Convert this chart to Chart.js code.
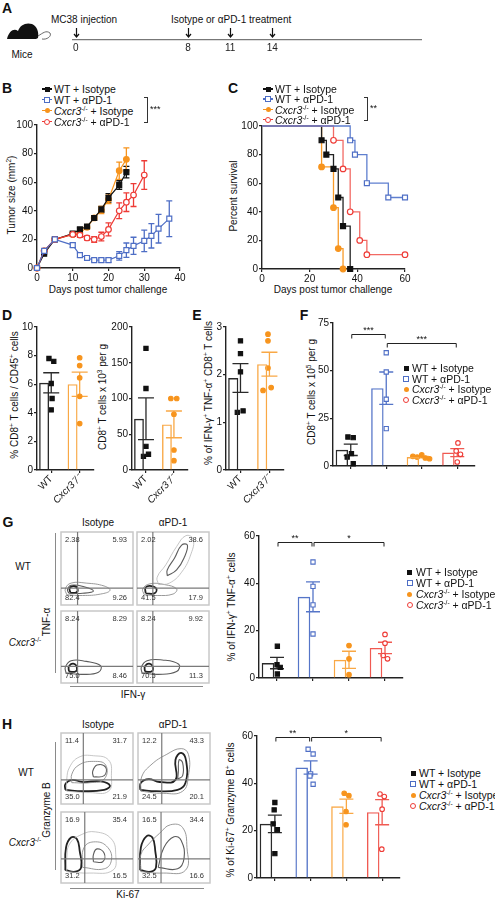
<!DOCTYPE html>
<html>
<head>
<meta charset="utf-8">
<title>CXCR3 and anti-PD-1 response in MC38 tumors</title>
<script src="https://cdn.jsdelivr.net/npm/chart.js@4.4.1/dist/chart.umd.min.js"></script>
<style>
  body { margin: 0; width: 495px; height: 900px; position: relative; overflow: hidden; background: #fff;
         font-family: "Liberation Sans", Arial, sans-serif; color: #111; }
  canvas { position: absolute; }
  .t { position: absolute; font-size: 10px; line-height: 1; white-space: nowrap; transform: translate(0, -50%); }
  .c { transform: translate(-50%, -50%); }
  .r { transform: translate(-50%, -50%) rotate(-90deg); }
  .L { font-size: 14px; font-weight: bold; }
  sup { font-size: 6.5px; vertical-align: 4px; line-height: 0; }
  .ln { position: absolute; background: #8a8a8a; }
</style>
</head>
<body>

<svg style="position:absolute;left:6px;top:21px" width="46" height="20" viewBox="0 0 46 20">
  <path d="M1 18 C3 10 8 7 12 10 C14 4 20 1 26 3 C31 5 33 11 32 17 L30 18 Z" fill="#111"/>
  <path d="M32 15 C37 12 40 9 44 12 C46 15 41 19 36 18" fill="none" stroke="#444" stroke-width="0.8"/>
</svg>
<div class="t L c" style="left:7px;top:8px">A</div>
<div class="t c" style="left:22px;top:55px">Mice</div>
<div class="t" style="left:51px;top:20px">MC38 injection</div>
<div class="t" style="left:171px;top:20px">Isotype or αPD-1 treatment</div>

<div class="t L c" style="left:7px;top:88px">B</div>
<div class="t r" style="left:12px;top:195px">Tumor size (mm<sup>2</sup>)</div>
<div class="t c" style="left:108px;top:290px">Days post tumor challenge</div>
<div class="t L c" style="left:233px;top:88px">C</div>
<div class="t r" style="left:234px;top:196px">Percent survival</div>
<div class="t c" style="left:333px;top:290px">Days post tumor challenge</div>

<div class="t L c" style="left:7px;top:315px">D</div>
<div class="t L c" style="left:197px;top:315px">E</div>
<div class="t L c" style="left:304px;top:315px">F</div>
<div class="t r" style="left:15px;top:395px">% CD8<sup>+</sup> T cells / CD45<sup>+</sup> cells</div>
<div class="t r" style="left:103px;top:397px">CD8<sup>+</sup> T cells x 10<sup>3</sup> per g</div>
<div class="t r" style="left:209px;top:393px">% of IFN-γ<sup>+</sup> TNF-α<sup>+</sup> CD8<sup>+</sup> T cells</div>
<div class="t r" style="left:312px;top:392px">CD8<sup>+</sup> T cells x 10<sup>5</sup> per g</div>

<div class="t L c" style="left:8px;top:522px">G</div>
<div class="t c" style="left:98px;top:523px">Isotype</div>
<div class="t c" style="left:173px;top:523px">αPD-1</div>
<div class="t c" style="left:23px;top:567px">WT</div>
<div class="t c" style="left:25px;top:643px"><i>Cxcr3</i><sup>-/-</sup></div>
<div class="t r" style="left:47px;top:622px">TNF-α</div>
<div class="ln" style="left:55px;top:533px;width:1px;height:140px"></div>
<div class="ln" style="left:70px;top:686px;width:133px;height:1px"></div>
<div class="t c" style="left:133px;top:695px">IFN-γ</div>
<div class="t r" style="left:232px;top:607px">% of IFN-γ<sup>+</sup> TNF-α<sup>+</sup> cells</div>

<div class="t L c" style="left:7px;top:724px">H</div>
<div class="t c" style="left:98px;top:725px">Isotype</div>
<div class="t c" style="left:173px;top:725px">αPD-1</div>
<div class="t c" style="left:26px;top:773px">WT</div>
<div class="t c" style="left:25px;top:843px"><i>Cxcr3</i><sup>-/-</sup></div>
<div class="t r" style="left:47px;top:810px">Granzyme B</div>
<div class="ln" style="left:55px;top:742px;width:1px;height:128px"></div>
<div class="ln" style="left:70px;top:888px;width:134px;height:1px"></div>
<div class="t c" style="left:128px;top:895px">Ki-67</div>
<div class="t r" style="left:231px;top:810px">% of Ki-67<sup>+</sup> Granzyme B<sup>+</sup> cells</div>

<script>
// ---- data ----
// A: schedule (days)
const timelineDays = [0, 8, 11, 14];

// B: tumor size (mm2), mean and SEM
const dayWtIso = [0, 2, 5, 10, 12, 14, 16, 18, 20, 23, 25];
const sizeWtIso = [0, 10, 20, 24, 27, 29, 35, 41, 49, 58, 67];
const semWtIso = [0, 0.5, 0.8, 1, 1, 1.2, 1.5, 2, 3, 3, 4];
const dayWtPd1 = [0, 2, 5, 10, 12, 14, 16, 18, 20, 23, 25, 27, 30, 32, 34, 37];
const sizeWtPd1 = [0, 12, 20, 16, 9, 7, 5.5, 5.5, 5.5, 8.5, 12.5, 15.5, 19, 22.5, 27.5, 34.5];
const semWtPd1 = [0, 0.5, 0.8, 1.5, 1.5, 1, 1, 1.5, 1.5, 3, 5, 6, 7.5, 8.5, 10, 12.5];
const dayKoIso = [0, 2, 5, 10, 12, 14, 16, 18, 20, 23, 25];
const sizeKoIso = [0, 12, 20, 23.5, 24.5, 28.5, 35, 40.5, 48, 68, 76];
const semKoIso = [0, 0.5, 0.8, 1, 1.2, 1.5, 1.5, 2.5, 3, 6, 8];
const dayKoPd1 = [0, 2, 5, 10, 12, 14, 16, 18, 20, 23, 25, 27, 30];
const sizeKoPd1 = [0, 12, 20, 23.5, 23, 21, 20, 22, 27, 40, 46, 51, 65];
const semKoPd1 = [0, 0.5, 0.8, 1, 1.5, 1.5, 2, 3, 4.5, 5.5, 6.5, 8, 10];

// C: percent survival
const survDayWtIso = [0, 25, 27, 30, 32, 34, 37];
const survWtIso = [100, 90, 80, 70, 50, 30, 0];
const survDayWtPd1 = [0, 37, 39, 44, 53, 60];
const survWtPd1 = [100, 90, 80, 60, 50, 50];
const survDayKoIso = [0, 25, 30, 32, 34];
const survKoIso = [100, 71.4, 42.9, 14.3, 0];
const survDayKoPd1 = [0, 30, 34, 37, 41, 44, 60];
const survKoPd1 = [100, 90, 70, 40, 20, 10, 10];

// D, E: WT vs Cxcr3-/-
const genotypes = ['WT', 'Cxcr3⁻/⁻'];
const dPctWt = [7.8, 7.6, 6.05, 5.0, 4.2];
const dPctKo = [7.85, 7.3, 6.45, 5.15, 3.25];
const dPctMean = [6.1, 6.0];
const dPctSem = [0.7, 0.85];
const dCntWt = [170, 114, 33, 19, 22];
const dCntKo = [100, 100, 78, 28, 13];
const dCntMean = [71.7, 63.8];
const dCntSem = [29.3, 18.7];
const eWt = [2.71, 2.44, 2.06, 1.21, 1.24];
const eKo = [2.85, 2.71, 2.14, 1.67, 1.73];
const eMean = [1.93, 2.22];
const eSem = [0.3, 0.25];

// F, G, H: four groups
const groups = ['WT + Isotype', 'WT + αPD-1', 'Cxcr3-/- + Isotype', 'Cxcr3-/- + αPD-1'];
const fPts = [[15.2, 14.9, 6.5, 4.7, 1.2], [59.4, 49.3, 35, 19.6], [5.1, 4.7, 5.8, 4.2, 3.8], [12.1, 7.9, 6.1, 2.1]];
const fMean = [8.5, 40.8, 4.7, 7.05];
const fSem = [3, 8.5, 0.4, 2.1];
const gPts = [[13.4, 5.6, 4.5, 1.7], [49, 38.7, 30.9, 18.6], [13.7, 8.1, 1.4], [18.4, 14.7, 9.5, 8.1]];
const gMean = [6.3, 34.3, 7.7, 12.7];
const gSem = [2.4, 6.3, 3.6, 2.4];
const hPts = [[31.9, 28.8, 22.9, 20.4, 10.3], [54.4, 52.4, 44, 43.1, 39.6], [35.8, 34.8, 28.1, 22.5], [35.5, 34.4, 29.1, 12.2]];
const hMean = [22.9, 46.7, 30.3, 27.8];
const hSem = [3.7, 2.8, 3, 5.3];

// small horizontal spread of the dots inside each bar (category units)
const dPctX = [[-0.08, 0.09, 0, 0.03, 0], [0, 0, 0, 0, 0]];
const dCntX = [[0, 0, 0, -0.09, 0.09], [-0.11, 0.1, 0, 0, 0]];
const eX = [[0, 0, 0, -0.11, 0.09], [-0.05, -0.05, -0.05, -0.22, 0.06]];
const fX = [[-0.08, 0.07, 0.02, -0.1, 0.07], [0, 0, 0, 0], [-0.25, -0.13, 0, 0.1, 0.22], [0.02, -0.03, 0.09, 0]];
const gX = [[0.01, 0, 0.09, 0.01], [0, 0, 0, 0], [0, 0, 0], [0, 0, -0.05, 0.07]];
const hX = [[0, -0.02, -0.05, 0.07, 0], [-0.07, 0.07, 0, -0.02, 0.07], [-0.06, 0.07, -0.01, -0.01], [-0.06, 0.06, 0, -0.01]];

// flow cytometry quadrant percentages [top-left, top-right, bottom-left, bottom-right]
const gWtIsoQ = ['2.38', '5.93', '82.4', '9.26'];
const gWtPd1Q = ['2.02', '38.6', '41.5', '17.9'];
const gKoIsoQ = ['8.24', '8.29', '75.0', '8.46'];
const gKoPd1Q = ['8.24', '9.92', '70.5', '11.3'];
const hWtIsoQ = ['11.4', '31.7', '35.0', '21.9'];
const hWtPd1Q = ['12.2', '43.3', '24.5', '20.1'];
const hKoIsoQ = ['16.9', '35.4', '31.2', '16.5'];
const hKoPd1Q = ['16.5', '34.4', '32.5', '16.6'];
// gate positions (% of axis)
const gGateX = [23, 22, 23, 22];
const hGateX = [31, 33, 33, 32];
const gGateY = 23;
const hGateY = 34;
// contour outlines (% of axis), outer to inner
const gWtIsoC = [[[8,14],[30,13],[55,15],[68,20],[60,26],[35,30],[14,30],[6,22],[8,14]],
                 [[11,16],[30,16],[45,19],[32,25],[14,27],[9,21],[11,16]],
                 [[13,17],[21,17],[23,22],[18,26],[12,23],[13,17]]];
const gWtPd1C = [[[30,28],[45,30],[62,45],[75,70],[78,90],[68,95],[55,80],[40,55],[28,38],[30,28]],
                 [[10,14],[28,13],[50,15],[55,22],[38,28],[18,29],[8,22],[10,14]],
                 [[42,40],[55,48],[66,66],[70,82],[62,82],[52,64],[42,48],[42,40]],
                 [[12,16],[24,16],[27,22],[20,26],[12,24],[12,16]]];
const gKoIsoC = [[[7,14],[30,12],[52,15],[55,24],[35,30],[14,31],[6,22],[7,14]],
                 [[11,16],[20,16],[22,22],[17,27],[11,23],[11,16]]];
const gKoPd1C = [[[7,14],[30,12],[55,16],[58,26],[35,32],[14,31],[6,22],[7,14]],
                 [[11,16],[20,16],[22,22],[17,27],[11,23],[11,16]]];
const hWtIsoC = [[[8,18],[40,16],[66,18],[70,40],[66,62],[45,68],[25,66],[12,52],[8,35],[8,18]],
                 [[15,30],[40,30],[60,35],[62,55],[45,60],[25,55],[15,42],[15,30]],
                 [[45,38],[60,40],[62,52],[50,55],[44,46],[45,38]],
                 [[6,20],[30,18],[60,20],[68,26],[55,32],[30,31],[15,34],[6,28],[6,20]]];
const hWtPd1C = [[[4,18],[35,15],[62,18],[70,40],[70,70],[60,78],[40,70],[18,55],[5,38],[4,18]],
                 [[55,35],[62,40],[62,58],[57,62],[56,45],[55,35]],
                 [[3,20],[25,18],[55,20],[66,30],[67,60],[60,72],[52,62],[52,34],[30,31],[15,35],[4,30],[3,20]]];
const hKoIsoC = [[[8,16],[40,14],[72,18],[76,40],[70,62],[48,72],[28,68],[12,55],[8,35],[8,16]],
                 [[30,22],[60,20],[70,32],[65,50],[48,58],[32,50],[30,22]],
                 [[45,30],[58,30],[60,42],[50,48],[45,40],[45,30]],
                 [[6,18],[20,16],[28,22],[26,45],[22,62],[14,64],[7,50],[6,18]]];
const hKoPd1C = [[[4,16],[35,14],[66,18],[68,50],[62,78],[45,82],[30,70],[15,55],[4,40],[4,16]],
                 [[28,22],[55,20],[64,35],[60,60],[50,65],[36,50],[28,22]],
                 [[3,18],[18,16],[25,22],[24,45],[20,64],[12,66],[4,50],[3,18]]];

// ---- styling ----
const STY = [
  { c: '#111111', bar: '#2a2a2a', ps: 'rect', open: false, line: '#222' },
  { c: '#4e6ec5', bar: '#5575c8', ps: 'rect', open: true, line: '#5f7fcf' },
  { c: '#f7941d', bar: '#f9a845', ps: 'circle', open: false, line: '#f89b2a' },
  { c: '#ee3b36', bar: '#f05a52', ps: 'circle', open: true, line: '#f26a64' }
];
const NAMES = ['WT + Isotype', 'WT + αPD-1', '<i>Cxcr3</i><sup>-/-</sup> + Isotype', '<i>Cxcr3</i><sup>-/-</sup> + αPD-1'];

Chart.defaults.font.family = '"Liberation Sans", Arial, sans-serif';
Chart.defaults.font.size = 10;
Chart.defaults.color = '#111';
Chart.defaults.animation = false;
Chart.defaults.responsive = false;
Chart.defaults.plugins.legend.display = false;
Chart.defaults.plugins.tooltip.enabled = false;

function place(l, t, r, b, m) {
  const c = document.createElement('canvas');
  const w = Math.round(r - l + m[0] + m[2]), h = Math.round(b - t + m[1] + m[3]);
  c.width = w; c.height = h;
  c.style.left = (l - m[0]) + 'px';
  c.style.top = (t - m[1]) + 'px';
  c.style.width = w + 'px';
  c.style.height = h + 'px';
  document.body.appendChild(c);
  return c;
}

function yAx(min, max, step, w) {
  return {
    type: 'linear', min: min, max: max,
    ticks: { stepSize: step, padding: 1, font: { size: 10 }, color: '#111' },
    grid: { drawOnChartArea: false, tickLength: 3, color: '#222', lineWidth: 1.2 },
    border: { color: '#222', width: 1.4 },
    afterFit: s => { s.width = w; }
  };
}
function xLin(min, max, step, h) {
  return {
    type: 'linear', min: min, max: max,
    ticks: { stepSize: step, padding: 1, font: { size: 10 }, color: '#111' },
    grid: { drawOnChartArea: false, tickLength: 3, color: '#222', lineWidth: 1.2 },
    border: { color: '#222', width: 1.4 },
    afterFit: s => { s.height = h; }
  };
}

let pid = 0;
function errPlugin(xs, means, sems, color, cap, xKey) {
  return {
    id: 'err' + (pid++),
    beforeDatasetsDraw(chart) {
      const sx = chart.scales[xKey || 'x'], sy = chart.scales.y, ctx = chart.ctx;
      ctx.save();
      ctx.lineWidth = 1.3;
      xs.forEach((x, i) => {
        if (!sems[i]) return;
        const px = sx.getPixelForValue(x);
        const a = sy.getPixelForValue(means[i] + sems[i]);
        const b = sy.getPixelForValue(Math.max(means[i] - sems[i], 0));
        ctx.strokeStyle = Array.isArray(color) ? color[i] : color;
        ctx.beginPath();
        ctx.moveTo(px, a); ctx.lineTo(px, b);
        ctx.moveTo(px - cap, a); ctx.lineTo(px + cap, a);
        ctx.moveTo(px - cap, b); ctx.lineTo(px + cap, b);
        ctx.stroke();
      });
      ctx.restore();
    }
  };
}

function bracketPlugin(list) {
  return {
    id: 'brk' + (pid++),
    afterDatasetsDraw(chart) {
      const sx = chart.scales.x, sy = chart.scales.y, ctx = chart.ctx;
      ctx.save();
      ctx.strokeStyle = '#222'; ctx.lineWidth = 1; ctx.fillStyle = '#111';
      ctx.font = '9px "Liberation Sans", Arial, sans-serif';
      ctx.textAlign = 'center'; ctx.textBaseline = 'bottom';
      list.forEach(([a, b, y, txt]) => {
        const x1 = sx.getPixelForValue(a) + 1, x2 = sx.getPixelForValue(b) - 1, py = Math.round(sy.getPixelForValue(y)) + 0.5;
        ctx.beginPath();
        ctx.moveTo(x1, py + 4); ctx.lineTo(x1, py); ctx.lineTo(x2, py); ctx.lineTo(x2, py + 4);
        ctx.stroke();
        ctx.fillText(txt, (x1 + x2) / 2, py + 1);
      });
      ctx.restore();
    }
  };
}

// ---- A: schedule ----
new Chart(place(73, 20, 421, 40, [6, 0, 6, 14]), {
  type: 'scatter',
  data: { datasets: [{ data: timelineDays.map(d => ({ x: d, y: 0 })), pointRadius: 0 }] },
  options: {
    layout: { padding: { left: 6, right: 6 } },
    scales: {
      x: { type: 'linear', min: -0.2, max: 24.6,
           afterBuildTicks: s => { s.ticks = timelineDays.map(v => ({ value: v })); },
           ticks: { padding: 2, color: '#222', font: { size: 10 } },
           grid: { display: false, drawTicks: false },
           border: { color: '#777', width: 1.3 },
           afterFit: s => { s.height = 14; } },
      y: { display: false, min: 0, max: 1 }
    }
  },
  plugins: [{
    id: 'arrows',
    afterDraw(chart) {
      const sx = chart.scales.x, ctx = chart.ctx, b = chart.chartArea.bottom;
      ctx.save(); ctx.strokeStyle = '#111'; ctx.lineWidth = 1.2;
      timelineDays.forEach(d => {
        const px = Math.round(sx.getPixelForValue(d)) + 0.5;
        ctx.beginPath();
        ctx.moveTo(px, b - 12); ctx.lineTo(px, b - 3);
        ctx.moveTo(px - 2.5, b - 6); ctx.lineTo(px, b - 3); ctx.lineTo(px + 2.5, b - 6);
        ctx.stroke();
      });
      ctx.restore();
    }
  }]
});

// ---- B: tumor growth ----
function growth(xs, ys, s) {
  return {
    data: xs.map((x, i) => ({ x: x, y: ys[i] })),
    borderColor: s.c, borderWidth: 1.2,
    pointStyle: s.ps, pointRadius: s.ps === 'rect' ? 3.5 : 2.8, pointBorderWidth: 1.2,
    pointBorderColor: s.c, pointBackgroundColor: s.open ? '#fff' : s.c, clip: false
  };
}
new Chart(place(37, 125, 180, 268, [30, 8, 8, 16]), {
  type: 'line',
  data: { datasets: [
    growth(dayWtPd1, sizeWtPd1, STY[1]),
    growth(dayKoPd1, sizeKoPd1, STY[3]),
    growth(dayWtIso, sizeWtIso, STY[0]),
    growth(dayKoIso, sizeKoIso, STY[2])
  ] },
  options: {
    layout: { padding: { top: 8, right: 8 } },
    scales: { x: xLin(0, 40, 10, 16), y: yAx(0, 100, 20, 30) }
  },
  plugins: [
    errPlugin(dayWtPd1, sizeWtPd1, semWtPd1, STY[1].c, 3),
    errPlugin(dayKoPd1, sizeKoPd1, semKoPd1, STY[3].c, 3),
    errPlugin(dayWtIso, sizeWtIso, semWtIso, STY[0].c, 3),
    errPlugin(dayKoIso, sizeKoIso, semKoIso, STY[2].c, 3)
  ]
});

// ---- C: survival ----
function surv(xs, ys, s) {
  return {
    data: xs.map((x, i) => ({ x: x, y: ys[i] })),
    stepped: true, borderColor: s.line, borderWidth: 1.3,
    pointStyle: s.ps, pointRadius: xs.map((x, i) => i === 0 ? 0 : (s.ps === 'rect' ? 3.5 : 2.8)),
    pointBorderWidth: 1.2, pointBorderColor: s.c, pointBackgroundColor: s.open ? '#fff' : s.c, clip: false
  };
}
new Chart(place(262, 126, 405, 269, [30, 8, 10, 16]), {
  type: 'line',
  data: { datasets: [
    surv(survDayWtPd1, survWtPd1, STY[1]),
    surv(survDayKoPd1, survKoPd1, STY[3]),
    surv(survDayWtIso, survWtIso, STY[0]),
    surv(survDayKoIso, survKoIso, STY[2])
  ] },
  options: {
    layout: { padding: { top: 8, right: 10 } },
    scales: { x: xLin(0, 60, 20, 16), y: yAx(0, 100, 20, 30) }
  }
});

// ---- bar + dot charts ----
function barChart(rect, m, labels, means, sems, pts, ptX, sty, yMax, yStep, cap, showLabels, brackets) {
  const n = labels.length;
  const datasets = [{
    type: 'bar', data: means, backgroundColor: 'rgba(0,0,0,0)',
    borderColor: sty.map(s => s.bar), borderWidth: 1.4,
    barPercentage: 0.7, categoryPercentage: 1
  }];
  pts.forEach((vals, i) => datasets.push({
    type: 'scatter', xAxisID: 'x2',
    data: vals.map((v, j) => ({ x: i + ptX[i][j], y: v })),
    pointStyle: sty[i].ps, pointRadius: sty[i].ps === 'rect' ? 3 : 2.3, pointBorderWidth: 1.1,
    pointBorderColor: sty[i].c, pointBackgroundColor: sty[i].open ? '#fff' : sty[i].c, clip: false
  }));
  const plugins = [errPlugin(labels.map((l, i) => i), means, sems, sty.map(s => s.bar), cap)];
  if (brackets) plugins.push(bracketPlugin(brackets));
  new Chart(place(rect[0], rect[1], rect[2], rect[3], m), {
    type: 'bar',
    data: { labels: labels, datasets: datasets },
    options: {
      layout: { padding: { top: m[1], right: m[2] } },
      scales: {
        x: {
          type: 'category', offset: true,
          ticks: { display: showLabels, minRotation: 45, maxRotation: 45, padding: 0, color: '#111',
                   font: c => ({ size: 10, style: c.index === 1 ? 'italic' : 'normal' }) },
          grid: { offset: false, drawOnChartArea: false, tickLength: 3, color: '#222', lineWidth: 1.2 },
          border: { color: '#222', width: 1.4 },
          afterFit: s => { s.height = m[3]; }
        },
        // hidden twin of the category axis, so dots can sit beside each other in a bar
        x2: { type: 'linear', display: false, offset: false, grid: { offset: false }, min: -0.5, max: n - 0.5 },
        y: yAx(0, yMax, yStep, m[0])
      }
    },
    plugins: plugins
  });
}

const two = [STY[0], STY[2]];
barChart([37, 327, 95, 470], [30, 8, 4, 44], genotypes, dPctMean, dPctSem, [dPctWt, dPctKo], dPctX, two, 10, 2, 8, true);
barChart([132, 327, 189, 470], [30, 8, 4, 44], genotypes, dCntMean, dCntSem, [dCntWt, dCntKo], dCntX, two, 200, 50, 8, true);
barChart([225.5, 327, 284.5, 470], [24, 8, 4, 44], genotypes, eMean, eSem, [eWt, eKo], eX, two, 3, 1, 8, true);
barChart([333, 323, 475, 466], [24, 8, 6, 8], groups, fMean, fSem, fPts, fX, STY, 75, 25, 7, false,
         [[0, 1, 69, '***'], [1, 3, 64.3, '***']]);
barChart([258.5, 536, 402.5, 678], [24, 10, 6, 8], groups, gMean, gSem, gPts, gX, STY, 60, 20, 7, false,
         [[0, 1, 57.5, '**'], [1, 3, 57.5, '*']]);
barChart([257, 736, 400, 878], [24, 12, 6, 8], groups, hMean, hSem, hPts, hX, STY, 60, 20, 7, false,
         [[0, 1, 59.5, '**'], [1, 3, 59.5, '*']]);

// ---- flow cytometry plots ----
const CONT_COL = ['#b8b8b8', '#8e8e8e', '#5c5c5c', '#222'];
const CONT_W = [0.8, 0.9, 1.1, 1.8];
function flowChart(rect, gx, gy, quad, contours) {
  const off = 4 - contours.length;
  new Chart(place(rect[0], rect[1], rect[2], rect[3], [1, 1, 1, 1]), {
    type: 'scatter',
    data: { datasets: contours.map((pts, k) => ({
      data: pts.map(p => ({ x: p[0], y: p[1] })), showLine: true, tension: 0.45,
      pointRadius: 0, borderColor: CONT_COL[k + off], borderWidth: CONT_W[k + off]
    })) },
    options: {
      layout: { padding: 1 },
      scales: { x: { display: false, min: 0, max: 100 }, y: { display: false, min: 0, max: 100 } }
    },
    plugins: [{
      id: 'flow',
      beforeDatasetsDraw(chart) {
        const a = chart.chartArea, ctx = chart.ctx;
        ctx.save(); ctx.strokeStyle = '#c8c8c8'; ctx.lineWidth = 1.5;
        ctx.strokeRect(a.left, a.top, a.right - a.left, a.bottom - a.top);
        ctx.restore();
      },
      afterDatasetsDraw(chart) {
        const a = chart.chartArea, ctx = chart.ctx;
        const px = chart.scales.x.getPixelForValue(gx), py = chart.scales.y.getPixelForValue(gy);
        ctx.save(); ctx.strokeStyle = '#7a7a7a'; ctx.lineWidth = 1.2;
        ctx.beginPath();
        ctx.moveTo(px, a.top); ctx.lineTo(px, a.bottom);
        ctx.moveTo(a.left, py); ctx.lineTo(a.right, py);
        ctx.stroke();
        ctx.fillStyle = '#333'; ctx.font = '7.5px "Liberation Sans", Arial, sans-serif';
        ctx.textBaseline = 'top'; ctx.textAlign = 'left';
        ctx.fillText(quad[0], a.left + 4, a.top + 4);
        ctx.textAlign = 'right';
        ctx.fillText(quad[1], a.right - 6, a.top + 4);
        ctx.textBaseline = 'bottom'; ctx.textAlign = 'left';
        ctx.fillText(quad[2], a.left + 4, a.bottom - 3);
        ctx.textAlign = 'right';
        ctx.fillText(quad[3], a.right - 6, a.bottom - 3);
        ctx.restore();
      }
    }]
  });
}
flowChart([60.7, 531.7, 133, 604.3], gGateX[0], gGateY, gWtIsoQ, gWtIsoC);
flowChart([137.3, 531.7, 209.3, 604.3], gGateX[1], gGateY, gWtPd1Q, gWtPd1C);
flowChart([60.7, 610.7, 133, 682.3], gGateX[2], gGateY, gKoIsoQ, gKoIsoC);
flowChart([137.3, 610.7, 209.3, 682.3], gGateX[3], gGateY, gKoPd1Q, gKoPd1C);
flowChart([60.7, 733.3, 132.7, 804], hGateX[0], hGateY, hWtIsoQ, hWtIsoC);
flowChart([138.3, 733.3, 210, 804], hGateX[1], hGateY, hWtPd1Q, hWtPd1C);
flowChart([60.7, 811.7, 132.7, 882.3], hGateX[2], hGateY, hKoIsoQ, hKoIsoC);
flowChart([138.3, 811.7, 210, 882.3], hGateX[3], hGateY, hKoPd1Q, hKoPd1C);

// ---- HTML legends ----
function addEl(cls, style, html) {
  const d = document.createElement('div');
  d.className = cls; d.style.cssText = style;
  if (html) d.innerHTML = html;
  document.body.appendChild(d);
}
function legend(mx, tx, ys, lined) {
  ys.forEach((y, i) => {
    const s = STY[i];
    if (lined) addEl('', `position:absolute;left:${mx - 5}px;top:${y - 0.6}px;width:10px;height:1.2px;background:${s.c}`);
    const sz = s.open ? 6 : 5;
    addEl('', `position:absolute;box-sizing:border-box;left:${mx - sz / 2}px;top:${y - sz / 2}px;width:${sz}px;height:${sz}px;` +
      `background:${s.open ? '#fff' : s.c};border:${s.open ? '1.2px solid ' + s.c : 'none'};border-radius:${s.ps === 'circle' ? '50%' : '0'}`);
    addEl('t', `left:${tx}px;top:${y}px;font-size:10.5px`, NAMES[i]);
  });
}
function sigBracket(x, y1, y2, txt) {
  addEl('', `position:absolute;left:${x - 3}px;top:${y1}px;width:3px;height:${y2 - y1}px;border:1px solid #333;border-left:none`);
  addEl('t', `left:${x + 3}px;top:${(y1 + y2) / 2}px;font-size:9px`, txt);
}
legend(47, 54, [89, 99.5, 110.5, 121.5], true);
sigBracket(147, 97, 121, '***');
legend(268, 275, [89, 99, 109.5, 119.5], true);
sigBracket(367, 97, 119, '**');
legend(406, 412, [368, 378.5, 389, 399.5], false);
legend(409.5, 416, [572, 582.5, 594, 605], false);
legend(413, 419, [773, 784, 795, 806], false);
</script>
</body>
</html>
